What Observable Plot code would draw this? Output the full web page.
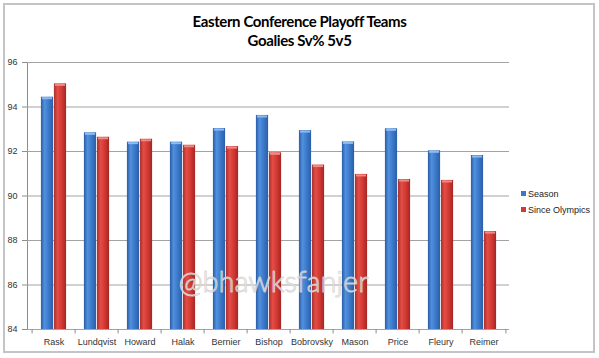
<!DOCTYPE html>
<html>
<head>
<meta charset="utf-8">
<script src="https://cdn.jsdelivr.net/npm/d3@7"></script>
<script src="https://cdn.jsdelivr.net/npm/@observablehq/plot@0.6"></script>
<style>
  body { margin: 0; background: #fff; }
  #wrap { position: relative; width: 599px; height: 358px; overflow: hidden; font-family: "Liberation Sans", Arial, sans-serif; }
  #border { position: absolute; left: 3px; top: 3px; width: 588px; height: 346px; border: 2px solid #c4c4c4; }
  .title { position: absolute; left: 0; width: 599px; text-align: center; font-family: Lato, "Open Sans", sans-serif; font-weight: bold; font-size: 15px; color: #000; letter-spacing: -0.4px; line-height: 18px; }
  #chart { position: absolute; left: 0; top: 0; }
  .leg { position: absolute; left: 521px; font-size: 9px; color: #222; line-height: 12px; white-space: nowrap; }
  .leg span.sw { display: inline-block; width: 5px; height: 5px; margin-right: 2px; vertical-align: 1px; }
  #chart svg [aria-label^="y-axis"] text, #chart svg [aria-label^="x-axis"] text { fill: #333; }
</style>
</head>
<body>
<div id="wrap">
  <div id="border"></div>
  <div class="title" style="top:12px">Eastern Conference Playoff Teams</div>
  <div class="title" style="top:31px">Goalies Sv% 5v5</div>
  <div id="chart"></div>
  <div class="leg" style="top:188px"><span class="sw" style="background:#3b78c9"></span>Season</div>
  <div class="leg" style="top:204px"><span class="sw" style="background:#cf3a35"></span>Since Olympics</div>
</div>
<script>
const players = ["Rask", "Lundqvist", "Howard", "Halak", "Bernier", "Bishop", "Bobrovsky", "Mason", "Price", "Fleury", "Reimer"];
const season = [94.44, 92.84, 92.42, 92.42, 93.03, 93.62, 92.94, 92.43, 93.02, 92.03, 91.82];
const sinceOlympics = [95.04, 92.64, 92.55, 92.28, 92.22, 91.94, 91.39, 90.97, 90.74, 90.70, 88.40];
const yTicks = [84, 86, 88, 90, 92, 94, 96];
const watermark = ["@bhawksfanjer"];

const rows = players.map((p, i) => ({player: p, season: season[i], since: sinceOlympics[i]}));

const W = 599, H = 358, mL = 27, mR = 90, mT = 62, mB = 29;
const step = (W - mL - mR) / players.length;
const barW = 13;
const inset = (step - barW) / 2;
const base = yTicks[0];

const chart = Plot.plot({
  width: W,
  height: H,
  marginLeft: mL,
  marginRight: mR,
  marginTop: mT,
  marginBottom: mB,
  style: {fontFamily: "'Liberation Sans', Arial, sans-serif", fontSize: "9px", color: "#8c8c8c", background: "transparent"},
  x: {domain: players, padding: 0, tickSize: 0, tickPadding: 9, label: null},
  y: {domain: [yTicks[0], yTicks[yTicks.length - 1]], ticks: yTicks, tickSize: 5, tickPadding: 5, label: null, line: true},
  marks: [
    Plot.ruleY(yTicks, {stroke: "#a3a3a3", strokeWidth: 1.2}),
    Plot.ruleX(players, {x: d => d, dx: -step / 2, y1: base, y2: base - 0.2, stroke: "#8c8c8c"}),
    Plot.ruleX(players.slice(-1), {x: d => d, dx: step / 2, y1: base, y2: base - 0.2, stroke: "#8c8c8c"}),
    Plot.barY(rows, {x: "player", y1: base, y2: "season", fill: "url(#gBlue)", insetLeft: inset, insetRight: inset, dx: -barW / 2}),
    Plot.barY(rows, {x: "player", y1: base, y2: "since", fill: "url(#gRed)", insetLeft: inset, insetRight: inset, dx: barW / 2}),
    Plot.tickY(rows, {x: "player", y: "season", stroke: "#8fbcf0", strokeWidth: 2, insetLeft: inset + 1, insetRight: inset + 1, dx: -barW / 2, dy: 1}),
    Plot.tickY(rows, {x: "player", y: "since", stroke: "#f08a84", strokeWidth: 2, insetLeft: inset + 1, insetRight: inset + 1, dx: barW / 2, dy: 1}),
    Plot.text(watermark, {text: d => d, frameAnchor: "middle", dx: 5, dy: 87, fontSize: 29, fontWeight: 300, fontFamily: "Lato, 'Open Sans', sans-serif", fill: "#ffffff", fillOpacity: 0.25, stroke: "#d0d0d0", strokeWidth: 1, strokeOpacity: 0.9})
  ]
});

const ns = "http://www.w3.org/2000/svg";
const defs = document.createElementNS(ns, "defs");
function grad(id, stops) {
  const g = document.createElementNS(ns, "linearGradient");
  g.setAttribute("id", id);
  g.setAttribute("x1", "0"); g.setAttribute("x2", "1"); g.setAttribute("y1", "0"); g.setAttribute("y2", "0");
  for (const [o, c] of stops) {
    const s = document.createElementNS(ns, "stop");
    s.setAttribute("offset", o);
    s.setAttribute("stop-color", c);
    g.appendChild(s);
  }
  defs.appendChild(g);
}
grad("gBlue", [[0, "#2a5ca6"], [0.3, "#5190de"], [0.6, "#3d7bcc"], [1, "#2b5ea8"]]);
grad("gRed", [[0, "#a9302c"], [0.3, "#e44c45"], [0.6, "#d63b35"], [1, "#a52622"]]);
chart.insertBefore(defs, chart.firstChild);

document.getElementById("chart").appendChild(chart);
</script>
</body>
</html>
